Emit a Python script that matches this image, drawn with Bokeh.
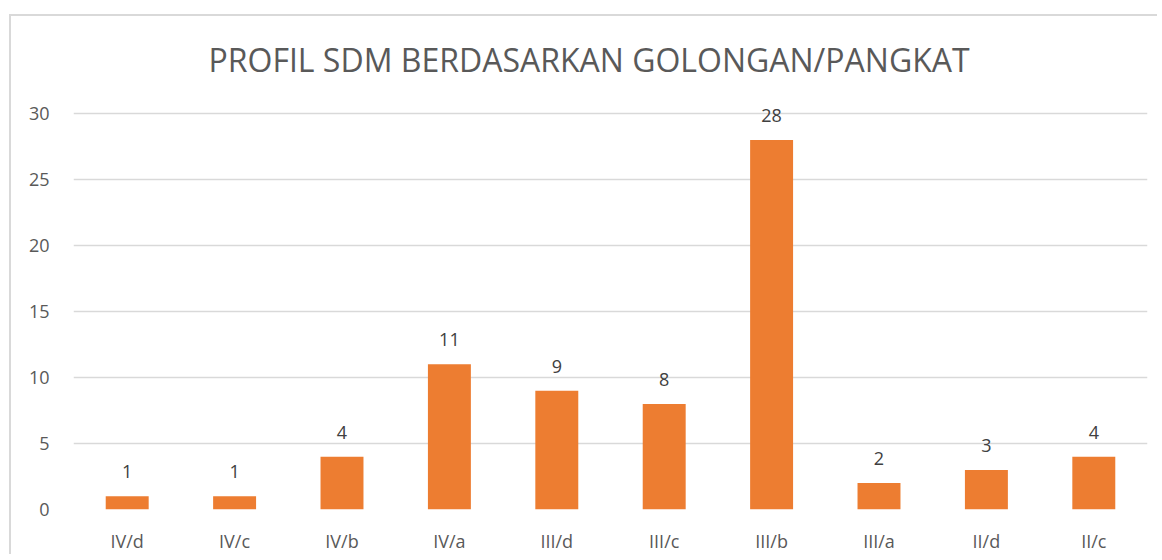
from bokeh.plotting import figure
from bokeh.models import ColumnDataSource, LabelSet, Range1d, FactorRange, SingleIntervalTicker
from bokeh.core.properties import value
from bokeh.embed import file_html
from bokeh.resources import INLINE

categories = ["IV/d", "IV/c", "IV/b", "IV/a", "III/d", "III/c", "III/b", "III/a", "II/d", "II/c"]
values = [1, 1, 4, 11, 9, 8, 28, 2, 3, 4]
title_text = "PROFIL SDM BERDASARKAN GOLONGAN/PANGKAT"
y_max_tick = 30

src = ColumnDataSource(dict(cat=categories, val=values, lab=[str(v) for v in values]))

FONT = "Open Sans"
TXT = "#595959"

# extra headroom above the top gridline so the tallest data label is not clipped
headroom_px = 26
px_per_unit = 396 / y_max_tick

p = figure(width=1148, height=540, x_range=FactorRange(*categories, range_padding=0),
           y_range=Range1d(0, y_max_tick + headroom_px / px_per_unit),
           output_backend="svg", toolbar_location=None,
           min_border_left=62, min_border_right=12, min_border_top=97 - headroom_px,
           min_border_bottom=47)
p.styles = {"margin-top": "14px", "margin-left": "9px",
            "border-top": "2px solid #d9d9d9", "border-left": "2px solid #d9d9d9"}

p.vbar(x="cat", top="val", width=0.4, source=src, fill_color="#ED7D31", line_color=None)

p.add_layout(LabelSet(x="cat", y="val", text="lab", source=src, text_align="center",
                      text_baseline="bottom", y_offset=18, text_font=value(FONT),
                      text_font_size="18px", text_color="#404040"))

p.title.text = title_text
p.title.align = "left"
p.title.offset = 135
p.title.text_font = FONT
p.title.text_font_size = "32px"
p.title.text_font_style = "normal"
p.title.text_color = TXT
p.title.standoff = 40 - headroom_px

p.outline_line_color = None
p.xgrid.grid_line_color = None
p.ygrid.grid_line_color = "#d9d9d9"
p.ygrid.grid_line_width = 1.5
p.yaxis.ticker = SingleIntervalTicker(interval=5)

for ax in (p.xaxis, p.yaxis):
    ax.axis_line_color = None
    ax.major_tick_line_color = None
    ax.minor_tick_line_color = None
    ax.major_label_text_font = FONT
    ax.major_label_text_font_size = "18px"
    ax.major_label_text_color = TXT
p.yaxis.major_label_standoff = 18
p.xaxis.major_label_standoff = 13

open("out.html", "w").write(file_html(p, INLINE))
